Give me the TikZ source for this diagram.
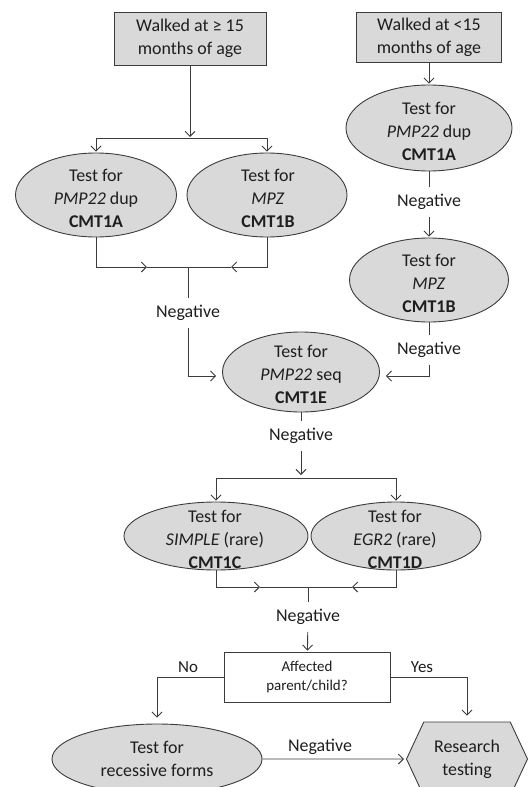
\documentclass[tikz,border=0pt]{standalone}
\usepackage{fontspec}
\setmainfont{Carlito}
\usetikzlibrary{arrows.meta,shapes.geometric,shapes.symbols}
\definecolor{shade}{HTML}{D9D9D9}
\definecolor{ink}{HTML}{3C3C3C}
\definecolor{txtc}{HTML}{1E1E1E}
\begin{document}
\begin{tikzpicture}[x=1bp,y=-1bp,
  every node/.style={font=\fontsize{18}{23}\selectfont, text=txtc},
  line/.style={draw=ink, line width=0.9bp},
  arr/.style={line, -{Straight Barb[length=5bp,width=10bp]}},
  gbox/.style={draw=ink, line width=0.9bp, fill=shade, rectangle, inner sep=0pt, align=center},
  ell/.style={draw=ink, line width=0.9bp, fill=shade, ellipse, inner sep=0pt},
  txt/.style={align=center, inner sep=0pt},
  lab/.style={inner sep=7bp},
]
\clip (0,0) rectangle (530,787);

% start boxes
\node[gbox, minimum width=152bp, minimum height=53bp] (w1) at (190,38.5) {Walked at ≥ 15\\months of age};
\node[gbox, minimum width=145bp, minimum height=50bp] (w2) at (429,37) {Walked at <15\\months of age};

% left pair
\node[ell, minimum width=161bp, minimum height=84bp] (a1) at (96,195) {};
\node[txt] (a1t) at (96,198) {Test for\\\textit{PMP22} dup\\\textbf{CMT1A}};
\node[ell, minimum width=160bp, minimum height=84bp] (b1) at (267,195) {};
\node[txt] (b1t) at (268,198) {Test for\\\textit{MPZ}\\\textbf{CMT1B}};

% right column
\node[ell, minimum width=166bp, minimum height=86bp] (a2) at (429,128) {};
\node[txt] (a2t) at (429,131) {Test for\\\textit{PMP22} dup\\\textbf{CMT1A}};
\node[ell, minimum width=159bp, minimum height=84bp] (b2) at (429,280) {};
\node[txt] (b2t) at (429,283) {Test for\\\textit{MPZ}\\\textbf{CMT1B}};

% CMT1E
\node[ell, minimum width=157bp, minimum height=80bp] (e) at (301,372) {};
\node[txt] (et) at (301,374) {Test for\\\textit{PMP22} seq\\\textbf{CMT1E}};

% CMT1C / CMT1D
\node[ell, minimum width=184bp, minimum height=68bp] (c) at (216,536) {};
\node[txt] (ct) at (215,539) {Test for\\\textit{SIMPLE} (rare)\\\textbf{CMT1C}};
\node[ell, minimum width=170bp, minimum height=68bp] (d) at (396,536) {};
\node[txt] (dt) at (395,539) {Test for\\\textit{EGR2} (rare)\\\textbf{CMT1D}};

% decision box
\node[draw=ink, line width=0.9bp, fill=white, rectangle, inner sep=0pt, align=center,
      minimum width=166bp, minimum height=50bp, font=\fontsize{15}{20}\selectfont] (q) at (307,677) {Affected\\parent/child?};

% bottom row
\node[ell, minimum width=210bp, minimum height=70bp] (rec) at (157,759) {};
\node[txt] (rect) at (157,759) {Test for\\recessive forms};
\node[draw=ink, line width=0.9bp, fill=shade, signal, signal to=east and west, signal pointer angle=130,
      minimum width=121bp, minimum height=74bp, inner sep=0pt, align=center] (res) at (467,759) {Research\\testing};

% labels
\node[lab] (n1) at (188,313) {Negative};
\node[lab] (n2) at (429,202) {Negative};
\node[lab] (n3) at (429,350) {Negative};
\node[lab] (n4) at (301,436) {Negative};
\node[lab] (n5) at (308,617) {Negative};
\node[inner sep=0pt] (n6) at (320,747) {Negative};
\node[inner sep=0pt, font=\fontsize{17}{20}\selectfont] (no) at (188,667) {No};
\node[inner sep=0pt, font=\fontsize{17}{20}\selectfont] (yes) at (422,667) {Yes};

% coordinates
\coordinate (j1) at (190,138);
\coordinate (j2) at (188,267);
\coordinate (m1) at (147,267);
\coordinate (m2) at (231,267);
\coordinate (j3) at (301,478);
\coordinate (j4) at (308,587);
\coordinate (m3) at (260,587);
\coordinate (m4) at (352,587);

% left branch
\draw[arr, shorten >=1bp] (w1) -- (j1);
\draw[arr, shorten >=1bp] (j1) -| (a1);
\draw[arr, shorten >=1bp] (j1) -| (b1);
\draw[arr] (a1) |- (m1);
\draw[line] (m1) -- (j2);
\draw[arr] (b1) |- (m2);
\draw[line] (m2) -- (j2);
\draw[line] (j2) -- (n1);
\draw[arr, shorten >=6bp] (n1) |- ([yshift=-4bp]e.west);

% right branch
\draw[arr, shorten >=1bp] (w2) -- (a2);
\draw[line] (a2) -- (n2);
\draw[arr, shorten >=1bp] (n2) -- (b2);
\draw[line] (b2) -- (n3);
\draw[arr, shorten >=6bp] (n3) |- ([yshift=-4bp]e.east);

% middle
\draw[line] (e) -- (n4);
\draw[arr, shorten >=3bp] (n4) -- (j3);
\draw[arr, shorten >=1bp] (j3) -| (c);
\draw[arr, shorten >=1bp] (j3) -| (d);
\draw[arr] (c) |- (m3);
\draw[line] (m3) -- (j4);
\draw[arr] (d) |- (m4);
\draw[line] (m4) -- (j4);
\draw[line] (j4) -- (n5);
\draw[arr, shorten >=1bp] (n5) -- (q);

% decision
\draw[arr, shorten >=6bp] (q) -| (rec);
\draw[arr, shorten >=6bp] (q) -| (res);
\draw[arr, shorten >=2bp] (rec) -- (res);
\end{tikzpicture}
\end{document}
